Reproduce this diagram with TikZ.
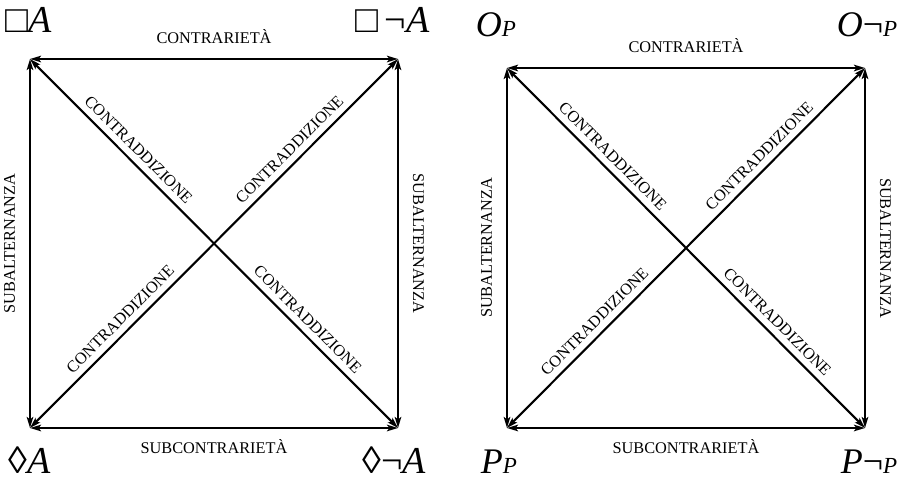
\documentclass[tikz,border=0pt]{standalone}
\usepackage{fontspec}
\setmainfont{Liberation Serif}
\usetikzlibrary{arrows.meta,positioning}
\newcommand{\smp}[1]{{\fontsize{23}{24}\selectfont\textit{#1}}}
\tikzset{
  ar/.style={{Stealth[length=11pt,width=6.5pt,inset=2.5pt]}-{Stealth[length=11pt,width=6.5pt,inset=2.5pt]},line width=2.1pt},
  rel/.style={font=\fontsize{16.3}{18}\selectfont,inner sep=0pt,text height=11pt,text depth=0pt},
  crn/.style={anchor=base,inner sep=0pt,font=\fontsize{38}{40}\selectfont},
  crp/.style={crn,font=\fontsize{36}{38}\selectfont}
}
\begin{document}
\begin{tikzpicture}[x=1pt,y=1pt]
\useasboundingbox (0,0) rectangle (913,480);
\foreach \q/\xa/\xb/\yt in {l/30/398/421,r/507/865/412}{
  \coordinate (\q tl) at (\xa,\yt);
  \coordinate (\q tr) at (\xb,\yt);
  \coordinate (\q bl) at (\xa,52);
  \coordinate (\q br) at (\xb,52);
  \draw[ar] (\q tl) -- node[rel,above=14pt] (\q c) {CONTRARIETÀ} (\q tr);
  \draw[ar] (\q bl) -- node[rel,below=13pt] (\q sc) {SUBCONTRARIETÀ} (\q br);
  \draw[ar] (\q bl) -- node[rel,sloped,above=14pt] (\q sa) {SUBALTERNANZA} (\q tl);
  \draw[ar] (\q tr) -- node[rel,sloped,above=14pt] (\q sb) {SUBALTERNANZA} (\q br);
  \draw[ar] (\q tl) -- node[rel,sloped,above=6.5pt,pos=.27] (\q d1) {CONTRADDIZIONE}
    node[rel,sloped,above=6.5pt,pos=.73] (\q d2) {CONTRADDIZIONE} (\q br);
  \draw[ar] (\q bl) -- node[rel,sloped,above=6.5pt,pos=.27] (\q d3) {CONTRADDIZIONE}
    node[rel,sloped,above=6.5pt,pos=.73] (\q d4) {CONTRADDIZIONE} (\q tr);
}
\node[crn] (nA) at (29,447) {□\textit{A}};
\node[crn] (nnA) at (392.5,447) {□\,¬\textit{A}};
\node[crn] (pA) at (29.5,7) {◊\textit{A}};
\node[crn] (pnA) at (394,7) {◊¬\textit{A}};
\node[crp] (oP) at (496,443) {\textit{O}\smp{P}};
\node[crp] (onP) at (867,443) {\textit{O}¬\smp{P}};
\node[crp] (pP) at (499,7) {\textit{P}\smp{P}};
\node[crp] (pnP) at (869,7) {\textit{P}¬\smp{P}};
\end{tikzpicture}
\end{document}
